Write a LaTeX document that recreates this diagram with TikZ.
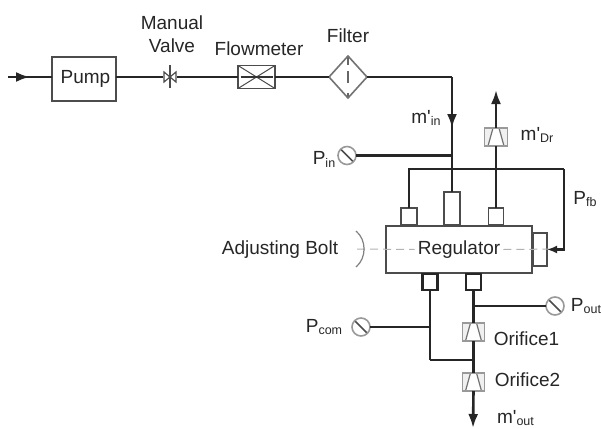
\documentclass[tikz,border=0pt]{standalone}
\usepackage{fontspec}
\setmainfont{Liberation Sans}
\usetikzlibrary{positioning,arrows.meta,shapes.geometric}

\newcommand{\sublabel}[2]{#1{\fontsize{12.5}{14}\selectfont\raisebox{-2.5pt}{#2}}}
\newcommand{\flowlabel}[1]{\sublabel{m\textquotesingle}{#1}}
\def\ppc{path picture bounding box.center}

\tikzset{
	pipe/.style={line width=2.6pt,color=black!85},
	tip/.style={-{Latex[length=14pt,width=10pt]}},
	smalltip/.style={-{Latex[length=10pt,width=8pt]}},
	joint/.style={inner sep=0pt,outer sep=0pt,minimum size=0pt},
	txt/.style={font=\fontsize{19}{23}\selectfont,text=black!85,inner sep=0pt,align=center},
	box/.style={draw=black!70,line width=1.6pt,fill=white,inner sep=0pt,outer sep=0pt},
	portbox/.style={box,minimum width=#1},
	lowport/.style={box,draw=black!85,line width=2.2pt,minimum width=15pt,minimum height=16pt},
	gauge/.style={circle,draw=black!40,line width=1.6pt,fill=white,minimum size=18pt,inner sep=0pt,outer sep=0pt,
		path picture={\draw[black!70,line width=1.5pt] ([shift={(-7,-7)}]\ppc) -- ([shift={(7,7)}]\ppc);}},
	flowbox/.style={box,minimum width=37pt,minimum height=23pt,
		path picture={
			\draw[black!70,line width=1pt] (path picture bounding box.north west) -- (path picture bounding box.south east)
				(path picture bounding box.south west) -- (path picture bounding box.north east);
			\draw[black!80,line width=1.6pt] ([xshift=-16pt]\ppc) -- ([xshift=16pt]\ppc);}},
	orifice/.style={box,draw=black!40,line width=1.8pt,fill=black!6,minimum width=22pt,minimum height=18pt,
		path picture={\draw[black!55,fill=white,line width=1.2pt] ([shift={(-3,-9)}]\ppc) -- ([shift={(-8,9)}]\ppc) -- ([shift={(8,9)}]\ppc) -- ([shift={(3,-9)}]\ppc) -- cycle;}},
	valvesym/.style={minimum width=14pt,minimum height=24pt,inner sep=0pt,outer sep=0pt,
		path picture={
			\draw[black!70,line width=1.2pt] ([shift={(-6,-5)}]\ppc) -- ([shift={(6,5)}]\ppc) -- ([shift={(6,-5)}]\ppc) -- ([shift={(-6,5)}]\ppc) -- cycle;
			\draw[black!70,line width=1.2pt] ([shift={(0,-12)}]\ppc) -- ([shift={(0,11)}]\ppc);}},
	filtersym/.style={diamond,draw=black!55,line width=1.6pt,fill=white,minimum width=38pt,minimum height=42pt,inner sep=0pt,outer sep=0pt,
		path picture={\draw[black!60,line width=1.3pt,dash pattern=on 5pt off 10pt on 12pt off 6pt on 9pt off 5pt] ([yshift=-21pt]\ppc) -- ([yshift=21pt]\ppc);}},
}

\begin{document}
\begin{tikzpicture}[x=1pt,y=-1pt,on grid]
	\useasboundingbox (0,0) rectangle (601,428);

	% supply line
	\node[box,minimum width=64pt,minimum height=44pt,txt] (pump) at (84,79) {\hspace{3pt}Pump};
	\node[valvesym,above right=2pt and 86pt of pump] (valve) {};
	\node[flowbox,right=86.5pt of valve] (flow) {};
	\node[filtersym,right=91.5pt of flow] (filter) {};
	\node[joint,left=76pt of pump,yshift=2pt] (inlet) {};
	\node[joint,right=22pt of inlet] (inletarrow) {};
	\node[joint,right=104pt of filter] (elbow) {};
	\node[joint,below=51pt of elbow] (minarrow) {};
	\node[joint,below=78.5pt of elbow] (pinjoin) {};
	\node[joint,below=92pt of elbow] (fbjoin) {};
	\node[joint,right=112pt of fbjoin] (fbcorner) {};

	% regulator and its ports
	\node[box,minimum width=146pt,minimum height=47pt] (reg) at (459,249.5) {};
	\node[portbox=16pt,minimum height=17pt,above left=33pt and 50pt of reg] (portl) {};
	\node[portbox=16pt,minimum height=33pt,above left=41pt and 7pt of reg] (portc) {};
	\node[portbox=15pt,minimum height=17pt,above right=33pt and 37pt of reg] (portr) {};
	\node[portbox=14pt,minimum height=33pt,right=81pt of reg] (porte) {};
	\node[lowport,below left=32.5pt and 29pt of reg] (portbl) {};
	\node[lowport,below right=32.5pt and 14.5pt of reg] (portbr) {};
	\node[txt,fill=white,inner xsep=3pt,inner ysep=1pt] (reglabel) at (reg) {Regulator};

	% gauges, drain and outlet
	\node[gauge,left=105pt of pinjoin] (pin) {};
	\node[orifice,minimum width=23pt,above=79.5pt of portr] (drain) {};
	\node[joint,above=47pt of drain] (draintip) {};
	\node[orifice,below=50pt of portbr] (ori1) {};
	\node[orifice,below=50pt of ori1] (ori2) {};
	\node[joint,below=46pt of ori2,xshift=-0.5pt] (outtip) {};
	\node[joint,below=24pt of portbr] (poutjoin) {};
	\node[joint,below=45pt of portbl] (pcomjoin) {};
	\node[joint,below=78pt of portbl] (lowcorner) {};
	\node[gauge,right=81.5pt of poutjoin] (pout) {};
	\node[gauge,left=69pt of pcomjoin] (pcom) {};

	% adjusting bolt
	\coordinate (dashl) at (357,249);
	\coordinate (dashr) at (565,249);
	\coordinate (bolta) at (356,231);
	\coordinate (boltb) at (356,267);
	\draw[black!30,line width=1pt,dash pattern=on 8pt off 5pt] (dashl) -- (reglabel.west) (reglabel.east) -- (dashr);
	\draw[black!50,line width=1.2pt] (bolta) to[bend left=50] (boltb);

	\path[pipe]
		(inlet) edge (inlet -| pump.west)
		(inlet) edge[tip] (inletarrow)
		(pump.east |- valve) edge (valve.west)
		(valve.east) edge (flow.west)
		(flow.east) edge (filter.west)
		(filter.east) edge (elbow)
		(elbow) edge (portc.north)
		(elbow) edge[tip] (minarrow)
		(pin.east) edge (pinjoin);
	\draw[pipe] (portl.north) |- (fbcorner);
	\draw[pipe,smalltip] (fbcorner) |- (porte.east);
	\path[pipe]
		(portr.north) edge (drain.south)
		(drain.north) edge[tip] (draintip)
		(portbr.south) edge (ori1.north -| portbr)
		(poutjoin) edge (pout.west)
		(pcomjoin) edge (pcom.east)
		(ori1.south -| portbr) edge (ori2.north -| portbr)
		(ori2.south -| portbr) edge[tip] (outtip);
	\draw[pipe] (portbl.south) -- (lowcorner) -- (lowcorner -| portbr);

	% labels
	\node[txt,above right=43pt and 2pt of valve] (valvetext) {Manual\\Valve};
	\node[txt,above right=28pt and 2.5pt of flow] (flowtext) {Flowmeter};
	\node[txt,above=41pt of filter] (filtertext) {Filter};
	\node[txt,above left=10pt and 26pt of minarrow] (mintext) {\flowlabel{in}};
	\node[txt,above right=2pt and 41pt of drain] (draintext) {\flowlabel{Dr}};
	\node[txt,below left=4pt and 23pt of pin] (pintext) {\sublabel{P}{in}};
	\node[txt,below right=30pt and 21pt of fbcorner] (fbtext) {\sublabel{P}{fb}};
	\node[txt,left=179pt of reg] (bolttext) {Adjusting Bolt};
	\node[txt,right=31pt of pout] (pouttext) {\sublabel{P}{out}};
	\node[txt,left=37pt of pcom] (pcomtext) {\sublabel{P}{com}};
	\node[txt,below right=7pt and 53pt of ori1] (ori1text) {Orifice1};
	\node[txt,above right=2pt and 54pt of ori2] (ori2text) {Orifice2};
	\node[txt,below right=36pt and 42pt of ori2] (outtext) {\flowlabel{out}};
\end{tikzpicture}
\end{document}
